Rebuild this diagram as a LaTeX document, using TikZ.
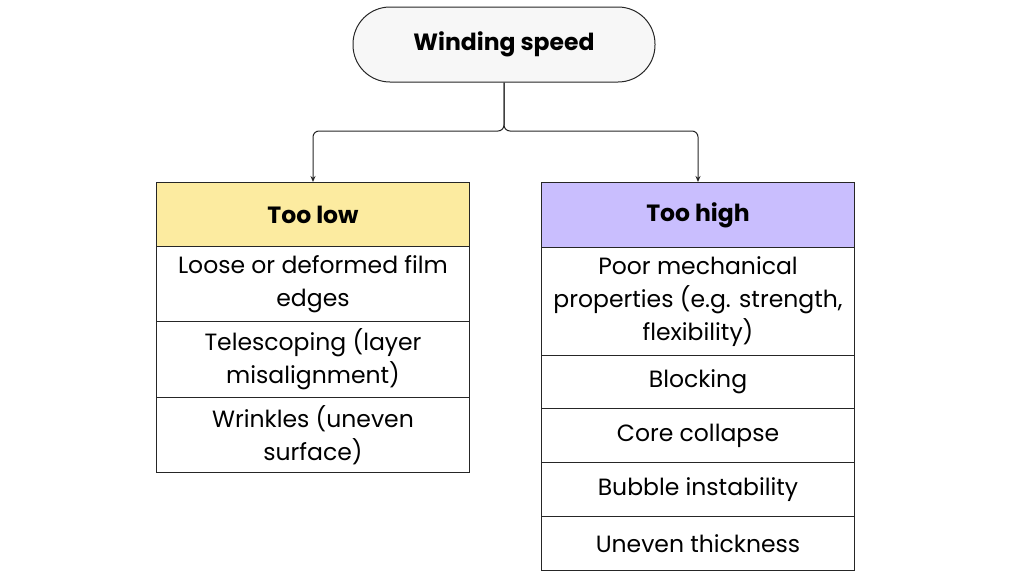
\documentclass[tikz,border=0pt]{standalone}
\usetikzlibrary{arrows.meta}
\usepackage{fontspec}
\setmainfont{Poppins}
\begin{document}
\begin{tikzpicture}[x=1pt,y=-1pt,
  cell/.style={draw=black!85,line width=1pt,minimum width=313pt,align=center,inner sep=0pt,font=\fontsize{23.5}{33}\selectfont,anchor=north west},
  head/.style={cell,font=\fontsize{23.5}{28}\selectfont\bfseries},
  conn/.style={draw=black!85,line width=1pt,rounded corners=6pt,-{Stealth[length=6pt,width=5pt]}}]
\useasboundingbox (0,0) rectangle (1024,576);
\definecolor{yel}{HTML}{FCEBA0}
\definecolor{pur}{HTML}{C9BEFE}
\node[draw=black!85,line width=1pt,rounded corners=37pt,minimum width=302pt,minimum height=75pt,fill=black!3,font=\fontsize{23.5}{28}\selectfont\bfseries] (top) at (504,44.5) {Winding speed};
% left
\node[head,fill=yel,minimum height=64pt] (L0) at (156,182) {Too low};
\node[cell,minimum height=75pt] (L1) at (156,246) {Loose or deformed film\\edges};
\node[cell,minimum height=76pt] (L2) at (156,321) {Telescoping (layer\\misalignment)};
\node[cell,minimum height=75pt] (L3) at (156,397) {Wrinkles (uneven\\surface)};
% right
\node[head,fill=pur,minimum height=65pt] (R0) at (541,182) {Too high};
\node[cell,minimum height=108pt] (R1) at (541,247) {Poor mechanical\\properties (e.g. strength,\\flexibility)};
\node[cell,minimum height=53pt] (R2) at (541,355) {Blocking};
\node[cell,minimum height=54pt] (R3) at (541,408) {Core collapse};
\node[cell,minimum height=54pt] (R4) at (541,462) {Bubble instability};
\node[cell,minimum height=54pt] (R5) at (541,516) {Uneven thickness};
\coordinate (m) at (504,131);
\draw[conn] (top.south) -- (m) -| (L0.north);
\draw[conn] (top.south) -- (m) -| (R0.north);
\end{tikzpicture}
\end{document}
